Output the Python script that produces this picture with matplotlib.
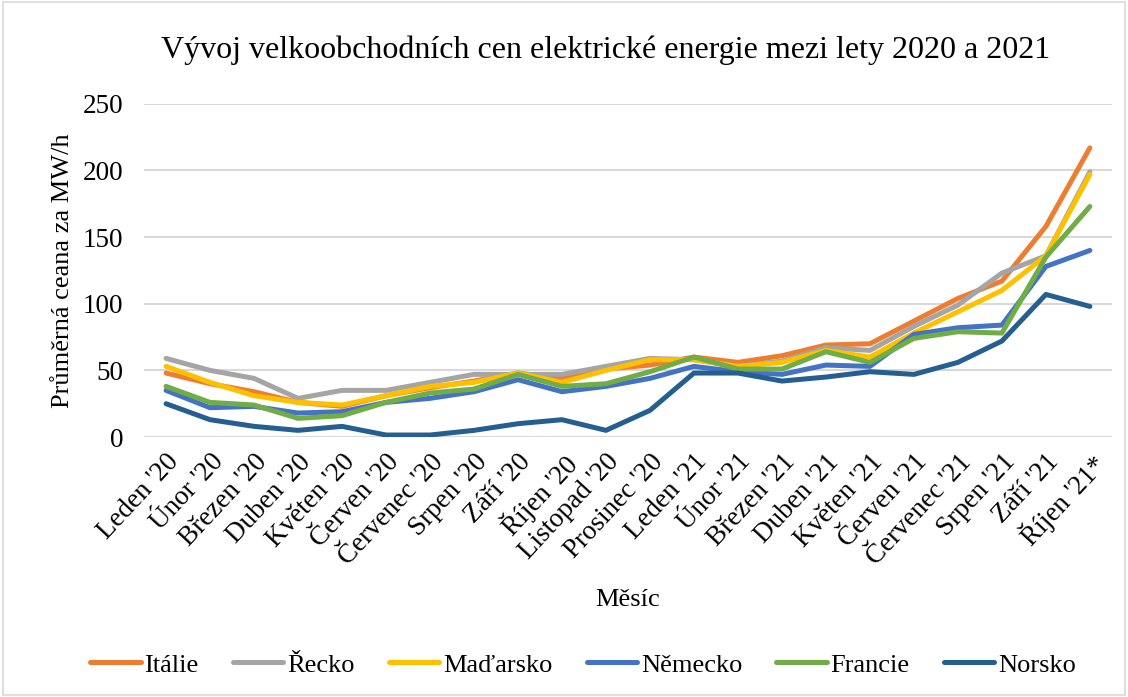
import matplotlib

matplotlib.use("Agg")
import matplotlib.pyplot as plt
from matplotlib.patches import Rectangle

months = ["Leden '20", "Únor '20", "Březen '20", "Duben '20", "Květen '20", "Červen '20",
          "Červenec '20", "Srpen '20", "Září '20", "Říjen '20", "Listopad '20", "Prosinec '20",
          "Leden '21", "Únor '21", "Březen '21", "Duben '21", "Květen '21", "Červen '21",
          "Červenec '21", "Srpen '21", "Září '21", "Říjen '21*"]

italie = [48, 40, 34, 26, 23, 31, 37, 42, 48, 44, 51, 54, 60, 56, 61, 69, 70, 87, 104, 117, 158, 217]
recko = [59, 50, 44, 29, 35, 35, 41, 47, 47, 47, 53, 59, 58, 53, 57, 67, 65, 83, 99, 123, 136, 199]
madarsko = [53, 41, 31, 26, 24, 31, 38, 41, 48, 41, 50, 58, 58, 53, 56, 65, 60, 78, 94, 110, 136, 197]
nemecko = [35, 22, 23, 18, 19, 26, 29, 34, 43, 34, 38, 44, 53, 49, 47, 54, 53, 77, 82, 84, 128, 140]
francie = [38, 26, 24, 14, 16, 26, 33, 36, 47, 38, 40, 49, 60, 51, 51, 64, 56, 74, 79, 78, 135, 173]
norsko = [25, 13, 8, 5, 8, 1.5, 1.5, 5, 10, 13, 5, 20, 48, 48, 42, 45, 49, 47, 56, 72, 107, 98]

series = [("Itálie", italie, "#ED7D31"), ("Řecko", recko, "#A5A5A5"),
          ("Maďarsko", madarsko, "#FFC000"), ("Německo", nemecko, "#4472C4"),
          ("Francie", francie, "#70AD47"), ("Norsko", norsko, "#255E91")]

plt.rcParams["font.family"] = ["Liberation Serif", "DejaVu Serif"]

fig = plt.figure(figsize=(11.28, 6.97), dpi=100)
ax = fig.add_axes([0.1277, 0.373, 0.858, 0.478])

x = list(range(len(months)))
for name, values, color in series:
    ax.plot(x, values, color=color, linewidth=3.6, label=name, solid_capstyle="round",
            solid_joinstyle="round")

ax.set_xlim(-0.5, len(months) - 0.5)
ax.set_ylim(0, 250)
ax.set_yticks([0, 50, 100, 150, 200, 250])
ax.set_xticks(x)
ax.set_xticklabels(months, rotation=47, ha="right", rotation_mode="anchor")
ax.tick_params(axis="both", length=0, labelsize=19.5)
ax.tick_params(axis="y", pad=15)
ax.tick_params(axis="x", pad=9)
ax.grid(axis="y", color="#D9D9D9", linewidth=1.5)
ax.set_axisbelow(True)
for spine in ax.spines.values():
    spine.set_visible(False)

ax.set_ylabel("Průměrná ceana za MW/h", fontsize=19, labelpad=6)
ax.set_xlabel("Měsíc", fontsize=19, labelpad=14)
fig.text(0.537, 0.928, "Vývoj velkoobchodních cen elektrické energie mezi lety 2020 a 2021",
         fontsize=23, ha="center", va="center")

fig.legend(loc="center", bbox_to_anchor=(0.517, 0.046), ncol=6, frameon=False,
           fontsize=19, handlelength=1.9, handletextpad=0.15, columnspacing=1.3)

fig.patches.append(Rectangle((0.003, 0.003), 0.994, 0.994, transform=fig.transFigure,
                             fill=False, edgecolor="#D9D9D9", linewidth=1.2))

fig.savefig("out.png", dpi=100)
